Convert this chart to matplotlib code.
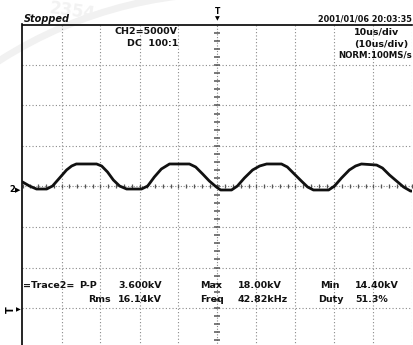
import numpy as np
import matplotlib
matplotlib.use("Agg")
import matplotlib.pyplot as plt
from matplotlib.patches import Arc

# Trace: time (us) and CH2 voltage (kV)
time_us = [-50.0, -48.2, -46.4, -43.8, -42.3, -40.5, -38.7, -37.4, -36.2, -31.0,
           -29.7, -28.2, -26.7, -25.1, -23.3, -19.5, -17.9, -16.2, -14.4, -12.3,
           -7.2, -5.6, -3.8, -2.1, -0.3, 0.8, 3.6, 5.1, 6.9, 9.0,
           10.8, 12.6, 16.4, 17.9, 19.7, 21.5, 23.1, 24.6, 28.5, 30.0,
           31.8, 33.8, 35.4, 36.9, 40.8, 42.3, 44.1, 45.9, 47.7, 49.5, 50.0]
volt_kv = [15.56, 15.06, 14.69, 14.69, 15.06, 16.05, 17.04, 17.53, 17.78, 17.78,
           17.53, 16.79, 15.80, 15.06, 14.69, 14.69, 15.06, 16.17, 17.16, 17.78,
           17.78, 17.41, 16.54, 15.68, 14.94, 14.57, 14.57, 15.06, 16.05, 17.04,
           17.53, 17.78, 17.78, 17.41, 16.54, 15.68, 14.94, 14.57, 14.57, 15.06,
           16.05, 17.04, 17.53, 17.78, 17.65, 17.28, 16.42, 15.68, 14.94, 14.44, 14.44]

# Screen settings
us_per_div = 10
kv_per_div = 5
kv_offset = 15

# Measurement readout
meas_names = ["P-P", "Max", "Min", "Rms", "Freq", "Duty"]
meas_values = ["3.600kV", "18.00kV", "14.40kV", "16.14kV", "42.82kHz", "51.3%"]

W, H = 414, 345
fig = plt.figure(figsize=(W / 100, H / 100), dpi=100)
fig.patch.set_facecolor("white")


def fx(x):
    return x / W


def fy(y):
    return 1 - y / H


# faint watermark behind everything
bg = fig.add_axes([0, 0, 1, 1], zorder=-1)
bg.set_xlim(0, W)
bg.set_ylim(H, 0)
bg.axis("off")
bg.add_patch(Arc((230, 420), 854, 854, theta1=200, theta2=275,
                 color="#f1f1f1", lw=5))
bg.text(48, 11, "2354", fontsize=12, color="#f2f2f2", rotation=-8,
        fontweight="bold", va="center")

ax = fig.add_axes([fx(22.5), fy(348.5), 390 / W, 324 / H])
ax.set_xlim(-5 * us_per_div, 5 * us_per_div)
ax.set_ylim(kv_offset - 4 * kv_per_div, kv_offset + 4 * kv_per_div)
ax.set_facecolor("none")
ax.set_xticks([])
ax.set_yticks([])
for side in ("right", "bottom"):
    ax.spines[side].set_visible(False)
for side in ("left", "top"):
    ax.spines[side].set_linewidth(1.2)

grid_kw = dict(color="#8a8a8a", lw=0.8, ls=(0, (1, 2)), zorder=1)
for k in range(-4, 6):
    if k != 0:
        ax.axvline(k * us_per_div, **grid_kw)
for k in range(-3, 4):
    if k != 0:
        ax.axhline(kv_offset + k * kv_per_div, **grid_kw)

# centre graticule with fine ticks
ax.axvline(0, color="#888888", lw=0.8, ls=(0, (1, 1.5)), zorder=1)
ax.axhline(kv_offset, color="#888888", lw=0.8, ls=(0, (1, 1.5)), zorder=1)
xt = np.arange(-50, 50.1, us_per_div / 5)
yt = kv_offset + np.arange(-20, 20.1, kv_per_div / 5)
ax.plot(xt, np.full_like(xt, kv_offset), ls="", marker="|", ms=3.5,
        mew=0.9, color="#555555", zorder=2)
ax.plot(np.zeros_like(yt), yt, ls="", marker="_", ms=4,
        mew=1.1, color="#555555", zorder=2)

ax.plot(time_us, volt_kv, color="#111111", lw=2.0,
        solid_joinstyle="round", solid_capstyle="round", zorder=3)

txt = dict(fontsize=6.8, fontweight="bold", color="#111111", va="center",
           family="DejaVu Sans")

fig.text(fx(24), fy(18.5), "Stopped", fontsize=7, fontweight="bold",
         style="italic", va="center", color="#111111")
fig.text(fx(412), fy(19), "2001/01/06 20:03:35", ha="right",
         **{**txt, "fontsize": 5.9})
fig.text(fx(178), fy(32), "CH2=5000V", ha="right", **txt)
fig.text(fx(178), fy(43.5), "DC  100:1", ha="right", **txt)
fig.text(fx(377), fy(32), "10us/div", ha="center", **txt)
fig.text(fx(381), fy(44), "(10us/div)", ha="center", **txt)
fig.text(fx(412), fy(55.5), "NORM:100MS/s", ha="right",
         **{**txt, "fontsize": 6.2})

# trigger marker at top and channel markers on the left
fig.text(fx(217.5), fy(11), "T", fontsize=5.5, fontweight="bold",
         ha="center", va="center")
fig.text(fx(217.5), fy(19), "\u25bc", fontsize=4.5, ha="center", va="center")
fig.text(fx(9), fy(190), "2", fontsize=6, fontweight="bold", va="center")
fig.text(fx(15), fy(190), "\u25b6", fontsize=5, va="center")
fig.text(fx(6), fy(310), "T", fontsize=7, fontweight="bold", va="center",
         rotation=90)
fig.text(fx(15.5), fy(310), "\u25b6", fontsize=4.5, va="center")

# readout block
fig.text(fx(23), fy(285), "=Trace2=", **txt)
name_x = [79, 200, 320, 88, 200, 318]
value_x = [118, 238, 355, 118, 238, 355]
row_y = [285, 285, 285, 300, 300, 300]
for name, val, nx, vx, ry in zip(meas_names, meas_values, name_x, value_x, row_y):
    fig.text(fx(nx), fy(ry), name, **txt)
    fig.text(fx(vx), fy(ry), val, **txt)

fig.savefig("out.png", dpi=100, facecolor="white")
